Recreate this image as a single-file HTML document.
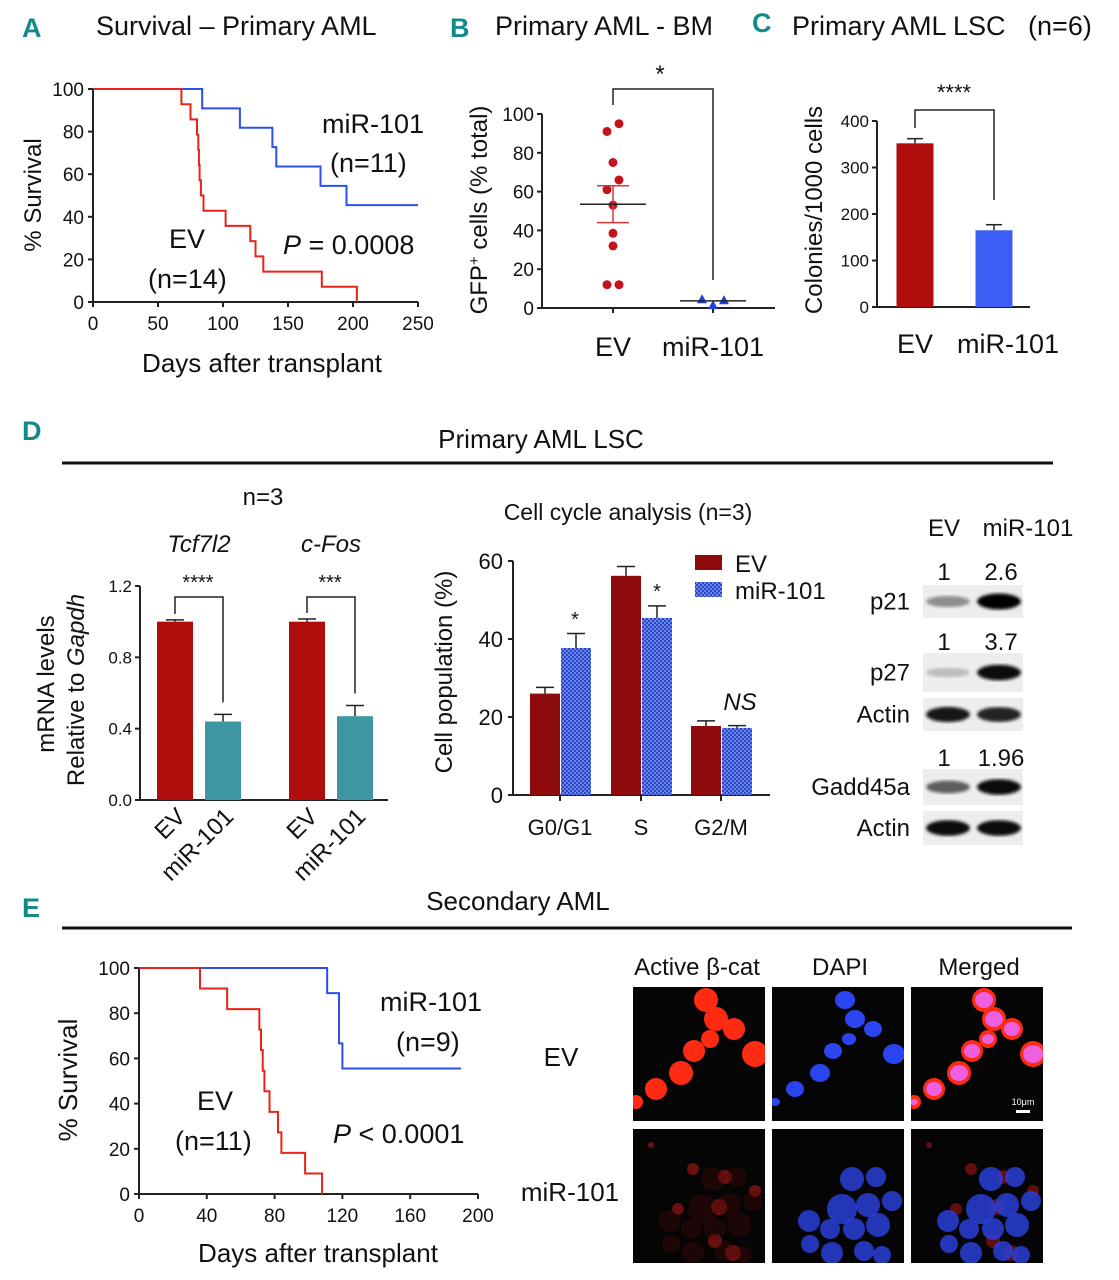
<!DOCTYPE html>
<html><head><meta charset="utf-8">
<style>
html,body{margin:0;padding:0;background:#fff;}
svg{display:block;font-family:"Liberation Sans",sans-serif;}
.t{font-size:24px;fill:#111;}
.tk{font-size:19px;fill:#111;}
.lt{font-size:27px;font-weight:bold;fill:#138a8a;font-family:"Liberation Sans Narrow","Liberation Sans",sans-serif;}
</style></head>
<body>
<svg id="fig" width="1119" height="1280" viewBox="0 0 1119 1280">
<defs>
<pattern id="chk" width="4" height="4" patternUnits="userSpaceOnUse">
<rect width="4" height="4" fill="#6e86e8"/><rect width="2" height="2" fill="#2846c8"/><rect x="2" y="2" width="2" height="2" fill="#2846c8"/>
</pattern>
<filter id="blur"><feGaussianBlur stdDeviation="1.6"/></filter>
</defs>
<text class="lt" x="22" y="37">A</text>
<text class="t" x="96" y="35" style="font-size:27px">Survival – Primary AML</text>
<text class="lt" x="450" y="37">B</text>
<text class="t" x="495" y="35" style="font-size:27px">Primary AML - BM</text>
<text class="lt" x="752" y="32">C</text>
<text class="t" x="792" y="35" style="font-size:27px">Primary AML LSC&#160;&#160;&#160;(n=6)</text>
<text class="lt" x="22" y="440">D</text>
<text class="t" x="541" y="448" text-anchor="middle" style="font-size:26px">Primary AML LSC</text>
<line x1="62" y1="463" x2="1053" y2="463" stroke="#111" stroke-width="3"/>
<text class="lt" x="22" y="917">E</text>
<text class="t" x="518" y="910" text-anchor="middle" style="font-size:26px">Secondary AML</text>
<line x1="62" y1="928" x2="1072" y2="928" stroke="#111" stroke-width="3"/>

<g id="gA"></g>
<g id="gB"></g>
<g id="gC"></g>
<g id="gD1"></g>
<g id="gD2"></g>
<g id="gBlot"></g>
<g id="gE"></g>
<g id="gM"></g>
</svg>
<script>
// ---------- DATA ----------
const aTicksX = [0,50,100,150,200,250];
const aTicksY = [0,20,40,60,80,100];
const aEvTimes = [68,75,80,81,81.5,82,83,85,102,121,125,131,176,203];
const aMirTimes = [84,113,138,141,175,195];
const aMirN = 11, aEvN = 14, aEnd = 250;
const bEv = [91,95,75,66,61,53,38.5,32,12,12];
const bMir = [4.5,4,1.5];
const bEvMean = 53.5, bEvSem = 9.5, bMirMean = 3.7, bMirSem = 0.8;
const bTicks = [0,20,40,60,80,100];
const cCats = ["EV","miR-101"];
const cVals = [352,165];
const cErr = [10,12];
const cTicks = [0,100,200,300,400];
const d1Genes = ["Tcf7l2","c-Fos"];
const d1Ev = [1.0,1.0];
const d1EvErr = [0.01,0.015];
const d1Mir = [0.44,0.47];
const d1MirErr = [0.04,0.06];
const d1Ticks = [0.0,0.4,0.8,1.2];
const d1TickLabels = ["0.0","0.4","0.8","1.2"];
const d1Stars = ["****","***"];
const d2Cats = ["G0/G1","S","G2/M"];
const d2Ev = [26,56.2,17.7];
const d2EvErr = [1.6,2.4,1.3];
const d2Mir = [37.7,45.4,17.2];
const d2MirErr = [3.7,3.1,0.6];
const d2Ticks = [0,20,40,60];
const eTicksX = [0,40,80,120,160,200];
const eTicksY = [0,20,40,60,80,100];
const eEvTimes = [36,52,71,72,73,74,77,82,84,98,108];
const eMirTimes = [111,118,118,120];
const eMirN = 9, eEvN = 11, eEnd = 190;

// ---------- HELPERS ----------
const NS="http://www.w3.org/2000/svg";
function mk(parent,tag,attrs,text){const e=document.createElementNS(NS,tag);for(const k in attrs)e.setAttribute(k,attrs[k]);if(text!==undefined)e.textContent=text;parent.appendChild(e);return e;}
function lin(d0,d1,r0,r1){return v=>r0+(v-d0)*(r1-r0)/(d1-d0);}
function kmPath(times,n,end,sx,sy){let s=n,d="M"+sx(0)+","+sy(100);const ts=times.slice().sort((a,b)=>a-b);
 for(const t of ts){d+=" H"+sx(t);s--;d+=" V"+sy(s/n*100);}
 if(s>0)d+=" H"+sx(end);return d;}

// ---------- PANEL A ----------
(function(){const g=document.getElementById('gA');
const sx=lin(0,250,93,418), sy=lin(0,100,302,89);
let e=mk(g,'line',{x1:93,y1:89,x2:93,y2:302,stroke:'#222','stroke-width':2});

e=mk(g,'line',{x1:93,y1:302,x2:418,y2:302,stroke:'#222','stroke-width':2});

aTicksY.forEach(v=>{mk(g,'line',{x1:88,x2:93,y1:sy(v),y2:sy(v),stroke:'#222','stroke-width':2});
 e=mk(g,'text',{x:84,y:sy(v)+7,'text-anchor':'end',class:'tk'},v);
 });
aTicksX.forEach(v=>{mk(g,'line',{x1:sx(v),x2:sx(v),y1:302,y2:307,stroke:'#222','stroke-width':2});
 e=mk(g,'text',{x:sx(v),y:330,'text-anchor':'middle',class:'tk'},v);
 });
e=mk(g,'path',{d:kmPath(aMirTimes,aMirN,aEnd,sx,sy),fill:'none',stroke:'#2b4ff0','stroke-width':2});

e=mk(g,'path',{d:kmPath(aEvTimes,aEvN,aEnd,sx,sy),fill:'none',stroke:'#e8231a','stroke-width':2});

e=mk(g,'text',{x:41,y:195,'text-anchor':'middle',class:'t',transform:'rotate(-90 41 195)'},'% Survival');

e=mk(g,'text',{x:262,y:372,'text-anchor':'middle',class:'t',style:'font-size:26px'},'Days after transplant');

e=mk(g,'text',{x:322,y:133,class:'t',style:'font-size:27px'},'miR-101');

e=mk(g,'text',{x:330,y:172,class:'t',style:'font-size:27px'},'(n=11)');

e=mk(g,'text',{x:169,y:248,class:'t',style:'font-size:27px'},'EV');

e=mk(g,'text',{x:148,y:288,class:'t',style:'font-size:27px'},'(n=14)');

e=mk(g,'text',{x:283,y:254,class:'t',style:'font-size:27px'});
e.innerHTML='<tspan font-style="italic">P</tspan> = 0.0008';

})();

// ---------- PANEL B ----------
(function(){const g=document.getElementById('gB');
const sy=lin(0,100,308,114), xEv=613, xMir=713;
let e=mk(g,'line',{x1:542,y1:114,x2:542,y2:308,stroke:'#222','stroke-width':2});

e=mk(g,'line',{x1:542,y1:308,x2:775,y2:308,stroke:'#222','stroke-width':2});

mk(g,'line',{x1:xEv,x2:xEv,y1:308,y2:313,stroke:'#222','stroke-width':2});
mk(g,'line',{x1:xMir,x2:xMir,y1:308,y2:313,stroke:'#222','stroke-width':2});
bTicks.forEach(v=>{mk(g,'line',{x1:537,x2:542,y1:sy(v),y2:sy(v),stroke:'#222','stroke-width':2});
 e=mk(g,'text',{x:534,y:sy(v)+7,'text-anchor':'end',class:'tk'},v);
 });
e=mk(g,'path',{d:`M${xEv},105 V89 H${xMir} V280`,fill:'none',stroke:'#222','stroke-width':1.5});

e=mk(g,'text',{x:660,y:82,'text-anchor':'middle',class:'t'},'*');

const offs=[-6,6,0,6,-6,0,0,0,-6,6];
bEv.forEach((v,i)=>{e=mk(g,'circle',{cx:xEv+offs[i],cy:sy(v),r:4.5,fill:'#c4141a'});
 });
mk(g,'line',{x1:xEv,x2:xEv,y1:sy(bEvMean+bEvSem),y2:sy(bEvMean-bEvSem),stroke:'#d8383c','stroke-width':1.5});
mk(g,'line',{x1:xEv-16,x2:xEv+16,y1:sy(bEvMean+bEvSem),y2:sy(bEvMean+bEvSem),stroke:'#d8383c','stroke-width':1.5});
mk(g,'line',{x1:xEv-16,x2:xEv+16,y1:sy(bEvMean-bEvSem),y2:sy(bEvMean-bEvSem),stroke:'#d8383c','stroke-width':1.5});
e=mk(g,'line',{x1:xEv-33,x2:xEv+33,y1:sy(bEvMean),y2:sy(bEvMean),stroke:'#222','stroke-width':1.5});

const mo=[-11,0,11];
[bMir[0],bMir[2],bMir[1]].forEach((v,i)=>{const x=xMir+mo[i],y=sy(v);
 e=mk(g,'path',{d:`M${x},${y-5} L${x+5},${y+4} L${x-5},${y+4}Z`,fill:'#1f3fe0'});
 });
e=mk(g,'line',{x1:xMir-33,x2:xMir+33,y1:sy(bMirMean),y2:sy(bMirMean),stroke:'#222','stroke-width':1.5});

e=mk(g,'text',{x:487,y:210,'text-anchor':'middle',class:'t',transform:'rotate(-90 487 210)'});
e.innerHTML='GFP<tspan font-size="15" dy="-8">+</tspan><tspan dy="8"> cells (% total)</tspan>';

e=mk(g,'text',{x:xEv,y:356,'text-anchor':'middle',class:'t',style:'font-size:27px'},'EV');

e=mk(g,'text',{x:xMir,y:356,'text-anchor':'middle',class:'t',style:'font-size:27px'},'miR-101');

})();

// ---------- PANEL C ----------
(function(){const g=document.getElementById('gC');
const sy=lin(0,400,307,121), xs=[915,994], bw=37, lx=[915,1008];
let e=mk(g,'line',{x1:877,y1:121,x2:877,y2:307,stroke:'#222','stroke-width':2});

e=mk(g,'line',{x1:877,y1:307,x2:1030,y2:307,stroke:'#222','stroke-width':2});

cTicks.forEach(v=>{mk(g,'line',{x1:872,x2:877,y1:sy(v),y2:sy(v),stroke:'#222','stroke-width':2});
 e=mk(g,'text',{x:869,y:sy(v)+6,'text-anchor':'end',class:'tk',style:'font-size:17px'},v);
 });
const cols=['#b20d0d','#3c5ef5'];
cVals.forEach((v,i)=>{const x=xs[i];
 mk(g,'line',{x1:x,x2:x,y1:sy(v),y2:sy(v+cErr[i]),stroke:'#222','stroke-width':1.5});
 mk(g,'line',{x1:x-8,x2:x+8,y1:sy(v+cErr[i]),y2:sy(v+cErr[i]),stroke:'#222','stroke-width':1.5});
 e=mk(g,'rect',{x:x-bw/2,y:sy(v),width:bw,height:sy(0)-sy(v),fill:cols[i]});
 
 e=mk(g,'text',{x:lx[i],y:353,'text-anchor':'middle',class:'t',style:'font-size:27px'},cCats[i]);
 });
e=mk(g,'path',{d:`M${xs[0]},128 V110 H${xs[1]} V200`,fill:'none',stroke:'#222','stroke-width':1.5});

e=mk(g,'text',{x:954,y:100,'text-anchor':'middle',class:'t',style:'font-size:22px'},'****');

e=mk(g,'text',{x:822,y:210,'text-anchor':'middle',class:'t',transform:'rotate(-90 822 210)'},'Colonies/1000 cells');

})();

// ---------- PANEL D1 ----------
(function(){const g=document.getElementById('gD1');
const sy=lin(0,1.2,800,586), centers=[199,331], bw=36;
let e=mk(g,'line',{x1:140,y1:586,x2:140,y2:800,stroke:'#222','stroke-width':2});

e=mk(g,'line',{x1:140,y1:800,x2:388,y2:800,stroke:'#222','stroke-width':2});

d1Ticks.forEach((v,i)=>{mk(g,'line',{x1:135,x2:140,y1:sy(v),y2:sy(v),stroke:'#222','stroke-width':2});
 e=mk(g,'text',{x:132,y:sy(v)+6,'text-anchor':'end',class:'tk',style:'font-size:17px'},d1TickLabels[i]);
 });
d1Genes.forEach((gn,i)=>{const c=centers[i],xe=c-24,xm=c+24;
 [[xe,d1Ev[i],d1EvErr[i],'#b00c0c','ev'],[xm,d1Mir[i],d1MirErr[i],'#3f96a3','mir101']].forEach(([x,v,er,col,nm])=>{
  mk(g,'line',{x1:x,x2:x,y1:sy(v),y2:sy(v+er),stroke:'#222','stroke-width':1.5});
  mk(g,'line',{x1:x-9,x2:x+9,y1:sy(v+er),y2:sy(v+er),stroke:'#222','stroke-width':1.5});
  e=mk(g,'rect',{x:x-bw/2,y:sy(v),width:bw,height:sy(0)-sy(v),fill:col});
  
 });
 e=mk(g,'path',{d:`M${xe},${sy(d1Ev[i]+d1EvErr[i])-6} V597 H${xm} V${sy(d1Mir[i]+d1MirErr[i])-12}`,fill:'none',stroke:'#222','stroke-width':1.5});
 
 e=mk(g,'text',{x:c-1,y:589,'text-anchor':'middle',class:'t',style:'font-size:20px'},d1Stars[i]);
 
 e=mk(g,'text',{x:c,y:552,'text-anchor':'middle',class:'t','font-style':'italic'},gn);
 
 e=mk(g,'text',{x:xe+12,y:818,'text-anchor':'end',class:'t',transform:`rotate(-45 ${xe+12} 818)`},'EV');
 
 e=mk(g,'text',{x:xm+12,y:818,'text-anchor':'end',class:'t',transform:`rotate(-45 ${xm+12} 818)`},'miR-101');
 
});
e=mk(g,'text',{x:263,y:505,'text-anchor':'middle',class:'t'},'n=3');

e=mk(g,'text',{x:54,y:684,'text-anchor':'middle',class:'t',transform:'rotate(-90 54 684)'},'mRNA levels');

e=mk(g,'text',{x:84,y:690,'text-anchor':'middle',class:'t',transform:'rotate(-90 84 690)'});
e.innerHTML='Relative to <tspan font-style="italic">Gapdh</tspan>';

})();

// ---------- PANEL D2 ----------
(function(){const g=document.getElementById('gD2');
const sy=lin(0,60,795,561), centers=[560,641,721], bw=30;
let e=mk(g,'line',{x1:513,y1:561,x2:513,y2:795,stroke:'#222','stroke-width':2});

e=mk(g,'line',{x1:513,y1:795,x2:770,y2:795,stroke:'#222','stroke-width':2});

d2Ticks.forEach(v=>{mk(g,'line',{x1:508,x2:513,y1:sy(v),y2:sy(v),stroke:'#222','stroke-width':2});
 e=mk(g,'text',{x:503,y:sy(v)+8,'text-anchor':'end',class:'t',style:'font-size:22px'},v);
 });
d2Cats.forEach((c,i)=>{const cx=centers[i];
 mk(g,'line',{x1:cx,x2:cx,y1:795,y2:801,stroke:'#222','stroke-width':2});
 [[cx-15,d2Ev[i],d2EvErr[i],'#8e0b0b','ev'],[cx+16,d2Mir[i],d2MirErr[i],'url(#chk)','mir101']].forEach(([x,v,er,col,nm])=>{
  mk(g,'line',{x1:x,x2:x,y1:sy(v),y2:sy(v+er),stroke:'#222','stroke-width':1.5});
  mk(g,'line',{x1:x-9,x2:x+9,y1:sy(v+er),y2:sy(v+er),stroke:'#222','stroke-width':1.5});
  e=mk(g,'rect',{x:x-bw/2,y:sy(v),width:bw,height:sy(0)-sy(v),fill:col});
  
 });
 e=mk(g,'text',{x:cx,y:835,'text-anchor':'middle',class:'t',style:'font-size:22px'},c);
 
});
[[575,626],[657,598]].forEach(([x,y])=>{e=mk(g,'text',{x:x,y:y,'text-anchor':'middle',class:'t',style:'font-size:20px'},'*');
 });
e=mk(g,'text',{x:740,y:710,'text-anchor':'middle',class:'t','font-style':'italic'},'NS');

e=mk(g,'text',{x:628,y:520,'text-anchor':'middle',class:'t',style:'font-size:23px'},'Cell cycle analysis (n=3)');

e=mk(g,'text',{x:452,y:672,'text-anchor':'middle',class:'t',transform:'rotate(-90 452 672)'},'Cell population (%)');

e=mk(g,'rect',{x:695,y:555,width:27,height:15,fill:'#8e0b0b'});

e=mk(g,'text',{x:735,y:572,class:'t'},'EV');

e=mk(g,'rect',{x:695,y:582,width:27,height:15,fill:'url(#chk)'});

e=mk(g,'text',{x:735,y:599,class:'t'},'miR-101');

})();

// ---------- WESTERN BLOT ----------
(function(){const g=document.getElementById('gBlot');
const rows=[['p21',585,618,0.4,1.0],['p27',653,692,0.2,0.95],['Actin',698,731,0.9,0.85],['Gadd45a',769,805,0.6,0.95],['Actin',811,845,0.95,0.95]];
let e;
rows.forEach(([nm,y0,y1,a,b])=>{
 e=mk(g,'rect',{x:923,y:y0,width:100,height:y1-y0,fill:'#ededed'});
 
 const cy=(y0+y1)/2;
 [[948,a],[999,b]].forEach(([cx,op])=>{mk(g,'ellipse',{cx:cx,cy:cy,rx:22,ry:4+op*4,fill:'#000',opacity:op,filter:'url(#blur)'});});
 e=mk(g,'text',{x:910,y:cy+8,'text-anchor':'end',class:'t'},nm);
 
});
[['1','2.6',580],['1','3.7',650],['1','1.96',766]].forEach(([a,b,y])=>{
 e=mk(g,'text',{x:944,y:y,'text-anchor':'middle',class:'t'},a);
 
 e=mk(g,'text',{x:1001,y:y,'text-anchor':'middle',class:'t'},b);
 });
e=mk(g,'text',{x:944,y:536,'text-anchor':'middle',class:'t'},'EV');

e=mk(g,'text',{x:1028,y:536,'text-anchor':'middle',class:'t'},'miR-101');

})();

// ---------- PANEL E ----------
(function(){const g=document.getElementById('gE');
const sx=lin(0,200,139,478), sy=lin(0,100,1194,968);
let e=mk(g,'line',{x1:139,y1:968,x2:139,y2:1194,stroke:'#222','stroke-width':2});

e=mk(g,'line',{x1:139,y1:1194,x2:478,y2:1194,stroke:'#222','stroke-width':2});

eTicksY.forEach(v=>{mk(g,'line',{x1:134,x2:139,y1:sy(v),y2:sy(v),stroke:'#222','stroke-width':2});
 e=mk(g,'text',{x:130,y:sy(v)+7,'text-anchor':'end',class:'tk'},v);
 });
eTicksX.forEach(v=>{mk(g,'line',{x1:sx(v),x2:sx(v),y1:1194,y2:1199,stroke:'#222','stroke-width':2});
 e=mk(g,'text',{x:sx(v),y:1222,'text-anchor':'middle',class:'tk'},v);
 });
e=mk(g,'path',{d:kmPath(eMirTimes,eMirN,eEnd,sx,sy),fill:'none',stroke:'#2b4ff0','stroke-width':2});

e=mk(g,'path',{d:kmPath(eEvTimes,eEvN,eEnd,sx,sy),fill:'none',stroke:'#e8231a','stroke-width':2});

e=mk(g,'text',{x:77,y:1080,'text-anchor':'middle',class:'t',style:'font-size:26px',transform:'rotate(-90 77 1080)'},'% Survival');

e=mk(g,'text',{x:318,y:1262,'text-anchor':'middle',class:'t',style:'font-size:26px'},'Days after transplant');

e=mk(g,'text',{x:380,y:1011,class:'t',style:'font-size:27px'},'miR-101');

e=mk(g,'text',{x:396,y:1051,class:'t',style:'font-size:27px'},'(n=9)');

e=mk(g,'text',{x:197,y:1110,class:'t',style:'font-size:27px'},'EV');

e=mk(g,'text',{x:175,y:1150,class:'t',style:'font-size:27px'},'(n=11)');

e=mk(g,'text',{x:333,y:1143,class:'t',style:'font-size:27px'});
e.innerHTML='<tspan font-style="italic">P</tspan> &lt; 0.0001';

})();

// ---------- MICROSCOPY ----------
(function(){const g=document.getElementById('gM');
const defs=document.querySelector('defs');
const cols=[633,772,911], rows=[987,1129], w=132, h=134;
const evCells=[[73,13,12],[83,32,12],[101,42,11],[77,52,9],[122,67,13],[61,64,11],[48,86,12],[23,102,11],[3,115,7]];
const mirCells=[[80,50,12],[104,48,10],[70,80,15],[96,76,12],[120,72,10],[37,92,11],[58,100,10],[82,100,11],[106,96,12],[38,115,9],[60,124,11],[92,122,10],[110,126,9]];
const mirRed=[[18,16,3],[92,48,7],[122,62,6],[86,78,8],[82,112,7],[100,124,8],[60,40,6],[45,80,6]];
let e;
rows.forEach((ry,ri)=>cols.forEach((cx,ci)=>{
 const id='clip'+ri+ci;
 const cp=mk(defs,'clipPath',{id:id});mk(cp,'rect',{x:cx,y:ry,width:w,height:h});
 e=mk(g,'rect',{x:cx,y:ry,width:w,height:h,fill:'#050505'});
 
 
 const sub=mk(g,'g',{'clip-path':'url(#'+id+')'});
 if(ri===0){
  evCells.forEach(([x,y,r])=>{
   if(ci!==1)mk(sub,'circle',{cx:cx+x,cy:ry+y,r:r,fill:'#ff2a12'});
   if(ci===1)mk(sub,'ellipse',{cx:cx+x,cy:ry+y,rx:r-2,ry:r-3,fill:'#2a44f0'});
   if(ci===2)mk(sub,'ellipse',{cx:cx+x,cy:ry+y,rx:r-3,ry:r-4,fill:'#ee60e0'});
  });
 } else {
  if(ci!==1)mirRed.forEach(([x,y,r])=>mk(sub,'circle',{cx:cx+x,cy:ry+y,r:r,fill:'#c01818',opacity:ci===0?0.55:0.5}));
  if(ci>=1)mirCells.forEach(([x,y,r])=>mk(sub,'ellipse',{cx:cx+x,cy:ry+y,rx:r,ry:r,fill:'#2a3fd8',opacity:0.85}));
  if(ci===0)mirCells.forEach(([x,y,r])=>mk(sub,'circle',{cx:cx+x,cy:ry+y,r:r,fill:'#4a0808',opacity:0.35}));
 }
}));
mk(g,'rect',{x:1016,y:1110,width:14,height:3,fill:'#fff'});
mk(g,'text',{x:1023,y:1105,'text-anchor':'middle',fill:'#fff','font-size':9},'10μm');
[['Active β-cat',697],['DAPI',840],['Merged',979]].forEach(([t,x])=>{
 e=mk(g,'text',{x:x,y:975,'text-anchor':'middle',class:'t'},t);
 });
e=mk(g,'text',{x:561,y:1066,'text-anchor':'middle',class:'t',style:'font-size:26px'},'EV');

e=mk(g,'text',{x:570,y:1201,'text-anchor':'middle',class:'t',style:'font-size:26px'},'miR-101');

})();
</script>
</body></html>
